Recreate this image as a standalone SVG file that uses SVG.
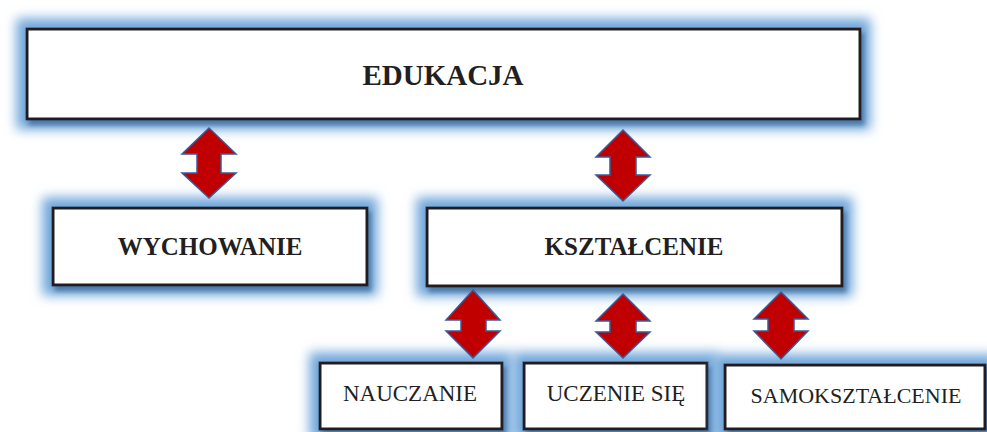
<svg xmlns="http://www.w3.org/2000/svg" width="987" height="432" viewBox="0 0 987 432">
<defs>
<style>
.box{fill:#fff;stroke:#231f20;stroke-width:3;filter:url(#glow)}
.t{font-family:"Liberation Serif","Times New Roman",serif;fill:#231f20;text-anchor:middle}
.b{font-weight:bold}
.arr{fill:#c00000;stroke:#3a5a9a;stroke-width:1.5;stroke-linejoin:miter}
</style>
<filter id="glow" x="-20%" y="-50%" width="140%" height="200%">
<feMorphology in="SourceAlpha" operator="dilate" radius="9" result="d"/>
<feGaussianBlur in="d" stdDeviation="6" result="b"/>
<feFlood flood-color="#6fa5da"/>
<feComposite in2="b" operator="in" result="glow"/>
<feOffset in="SourceAlpha" dx="3" dy="5" result="off"/>
<feGaussianBlur in="off" stdDeviation="2" result="offb"/>
<feFlood flood-color="#4a76a3" flood-opacity="0.9"/>
<feComposite in2="offb" operator="in" result="shadow"/>
<feMerge><feMergeNode in="glow"/><feMergeNode in="shadow"/><feMergeNode in="SourceGraphic"/></feMerge>
</filter>
</defs>
<g id="edukacja">
<rect class="box" x="27" y="29" width="833" height="90"/>
<text class="t b" x="443" y="85" font-size="29">EDUKACJA</text>
</g>
<g id="wychowanie">
<rect class="box" x="53" y="208" width="314" height="77"/>
<text class="t b" x="210" y="255" font-size="25">WYCHOWANIE</text>
</g>
<g id="ksztalcenie">
<rect class="box" x="427" y="208" width="415" height="78"/>
<text class="t b" x="634" y="255" font-size="25">KSZTAŁCENIE</text>
</g>
<g id="nauczanie">
<rect class="box" x="320" y="363" width="182" height="66"/>
<text class="t" x="410" y="401" font-size="23">NAUCZANIE</text>
</g>
<g id="uczenie">
<rect class="box" x="524" y="363" width="183" height="66"/>
<text class="t" x="616" y="401" font-size="23">UCZENIE SIĘ</text>
</g>
<g id="samoksztalcenie">
<rect class="box" x="725" y="365" width="260" height="64"/>
<text class="t" x="856" y="403" font-size="22">SAMOKSZTAŁCENIE</text>
</g>
<g id="connectors">
<path class="arr" d="M209,128 L236,154 L221,154 L221,173 L236,173 L209,198 L182,173 L197,173 L197,154 L182,154 Z"/>
<path class="arr" d="M623,130 L650,157 L636,157 L636,175 L650,175 L623,201 L596,175 L610,175 L610,157 L596,157 Z"/>
<path class="arr" d="M473,290 L500,320 L486,320 L486,331 L500,331 L473,358 L446,331 L461,331 L461,320 L446,320 Z"/>
<path class="arr" d="M623,294 L650,321 L636,321 L636,332 L650,332 L623,358 L596,332 L610,332 L610,321 L596,321 Z"/>
<path class="arr" d="M781,292 L808,319 L794,319 L794,331 L808,331 L781,359 L754,331 L768,331 L768,319 L754,319 Z"/>
</g>
</svg>
